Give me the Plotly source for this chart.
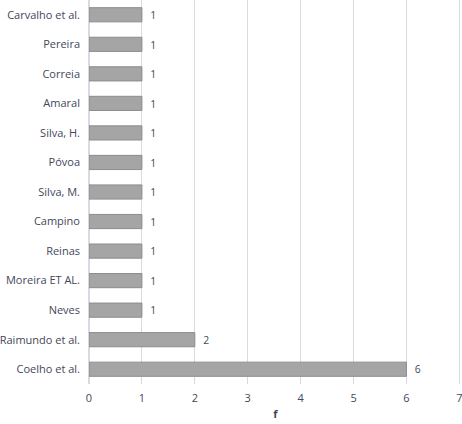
import plotly.graph_objects as go

categories = ["Coelho et al.", "Raimundo et al.", "Neves", "Moreira ET AL.", "Reinas", "Campino",
              "Silva, M.", "Póvoa", "Silva, H.", "Amaral", "Correia", "Pereira", "Carvalho et al."]
values = [6, 2, 1, 1, 1, 1, 1, 1, 1, 1, 1, 1, 1]
x_ticks = [0, 1, 2, 3, 4, 5, 6, 7]

font_family = "Open Sans, Liberation Sans, sans-serif"
text_color = "#44475a"

fig = go.Figure(go.Bar(
    y=categories, x=values, orientation="h",
    marker=dict(color="#a5a5a5", line=dict(color="#8c8c8c", width=1)),
    text=["  " + str(v) for v in values], textposition="outside",
    textfont=dict(family=font_family, size=11, color=text_color),
    cliponaxis=False,
))

fig.update_layout(
    width=462, height=424,
    margin=dict(l=89, r=0, t=0, b=40),
    paper_bgcolor="white", plot_bgcolor="white",
    bargap=0.52,
    showlegend=False,
    font=dict(family=font_family, size=11, color=text_color),
    xaxis=dict(range=[0, 7.05], tickvals=x_ticks, showgrid=True, gridcolor="#d9d9e3", gridwidth=1,
               zeroline=True, zerolinecolor="#d9d9e3", showline=False, ticks="",
               automargin=False, ticklabelstandoff=6, ticklabeloverflow="allow",
               title=dict(text="<b>f</b>", font=dict(size=11, color=text_color), standoff=6),
               tickfont=dict(size=11, color=text_color)),
    yaxis=dict(categoryorder="array", categoryarray=categories, showgrid=False, ticks="",
               showline=False, automargin=False, ticklabelstandoff=8,
               tickfont=dict(size=11, color=text_color)),
)

fig.write_html("out.html", config={"displayModeBar": False},
               post_script="document.body.style.margin='0';document.body.style.overflow='hidden';")
